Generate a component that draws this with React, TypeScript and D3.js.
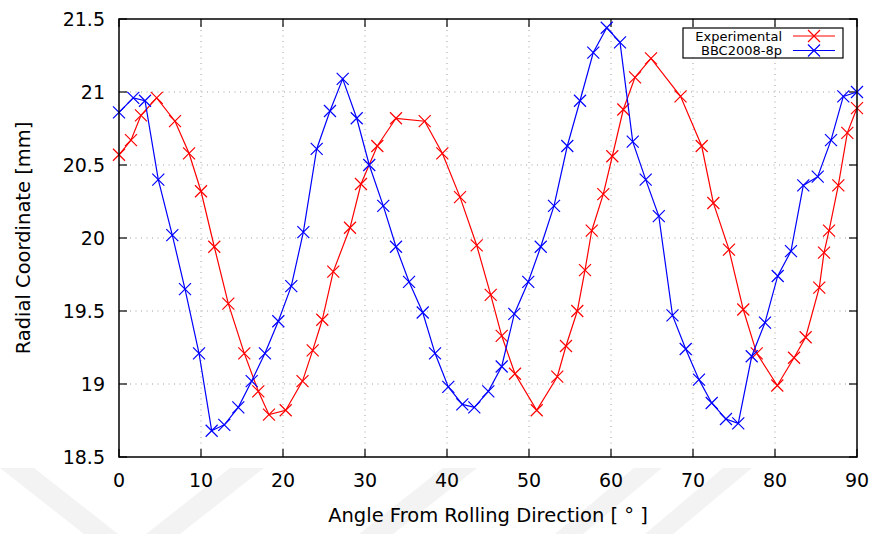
import React from "react";
import * as d3 from "d3";

const xTicks = [0, 10, 20, 30, 40, 50, 60, 70, 80, 90];
const yTicks = [18.5, 19, 19.5, 20, 20.5, 21, 21.5];

const expAngle = [0, 1.46, 2.68, 4.6, 6.83, 8.54, 10.0, 11.62, 13.33, 15.28, 16.99, 18.29, 20.33, 22.38, 23.62, 24.79, 26.13, 28.17, 29.51, 31.5, 33.78, 37.28, 39.43, 41.59, 43.62, 45.33, 46.67, 48.29, 50.94, 53.45, 54.51, 55.89, 56.83, 57.65, 59.06, 60.16, 61.5, 62.93, 64.88, 68.48, 71.06, 72.48, 74.39, 76.13, 77.77, 80.28, 82.32, 83.74, 85.4, 85.98, 86.59, 87.72, 88.82, 90];
const expVal = [20.57, 20.67, 20.84, 20.96, 20.8, 20.58, 20.32, 19.94, 19.55, 19.21, 18.95, 18.79, 18.82, 19.02, 19.23, 19.44, 19.77, 20.07, 20.37, 20.63, 20.82, 20.8, 20.58, 20.28, 19.95, 19.61, 19.33, 19.07, 18.82, 19.05, 19.26, 19.5, 19.78, 20.05, 20.3, 20.56, 20.88, 21.1, 21.23, 20.97, 20.63, 20.24, 19.92, 19.51, 19.21, 18.99, 19.18, 19.32, 19.66, 19.9, 20.05, 20.36, 20.72, 20.89];

const bbcAngle = [0, 1.74, 3.17, 4.79, 6.5, 8.05, 9.76, 11.3, 12.84, 14.55, 16.18, 17.8, 19.43, 21.01, 22.48, 24.11, 25.73, 27.28, 28.99, 30.52, 32.23, 33.78, 35.37, 37.04, 38.54, 40.16, 41.87, 43.33, 45.04, 46.67, 48.21, 49.91, 51.43, 53.05, 54.67, 56.22, 57.84, 59.48, 61.1, 62.65, 64.23, 65.83, 67.5, 69.11, 70.73, 72.28, 74.02, 75.52, 77.16, 78.78, 80.33, 81.95, 83.45, 85.21, 86.83, 88.33, 90];
const bbcVal = [20.86, 20.96, 20.94, 20.4, 20.02, 19.65, 19.21, 18.68, 18.72, 18.84, 19.02, 19.21, 19.43, 19.67, 20.04, 20.61, 20.87, 21.09, 20.82, 20.5, 20.22, 19.94, 19.7, 19.49, 19.21, 18.98, 18.86, 18.84, 18.95, 19.12, 19.48, 19.7, 19.94, 20.22, 20.63, 20.94, 21.27, 21.44, 21.34, 20.66, 20.4, 20.15, 19.47, 19.24, 19.03, 18.87, 18.76, 18.73, 19.19, 19.42, 19.74, 19.91, 20.36, 20.42, 20.67, 20.97, 21.0];

const seriesNames = ["Experimental", "BBC2008-8p"];
const seriesColors = ["#ff0000", "#0000ff"];
const xTitle = "Angle From Rolling Direction [ ° ]";
const yTitle = "Radial Coordinate [mm]";

const W = 875, H = 534;
const L = 119, R = 857, T = 19, B = 457;
const FONT = "'DejaVu Sans', sans-serif";

function Cross({ x, y, color }: { x: number; y: number; color: string }) {
  const s = 6;
  return (
    <path d={`M${x - s},${y - s}L${x + s},${y + s}M${x - s},${y + s}L${x + s},${y - s}`} stroke={color} strokeWidth={1.2} fill="none" />
  );
}

export default function App() {
  const x = d3.scaleLinear().domain([0, 90]).range([L, R]);
  const y = d3.scaleLinear().domain([18.5, 21.5]).range([B, T]);
  const line = d3.line<[number, number]>().x((d) => x(d[0])).y((d) => y(d[1]));
  const series = [
    { name: seriesNames[0], color: seriesColors[0], pts: expAngle.map((a, i) => [a, expVal[i]] as [number, number]) },
    { name: seriesNames[1], color: seriesColors[1], pts: bbcAngle.map((a, i) => [a, bbcVal[i]] as [number, number]) },
  ];
  const wm = "#f3f3f3";
  const tick = 8;
  return (
    <svg width={W} height={H} style={{ position: "absolute", left: 0, top: 0, background: "#fff" }} fontFamily={FONT}>
      {/* watermark */}
      <g fill={wm}>
        <polygon points="0,468 34,468 118,534 84,534" />
        <polygon points="230,468 264,468 180,534 146,534" />
        <polygon points="443,468 477,468 393,534 359,534" />
        <polygon points="634,468 662,468 583,534 555,534" />
        <polygon points="723,468 752,468 673,534 645,534" />
      </g>
      {/* grid */}
      <g stroke="#a0a0a0" strokeWidth={1} strokeDasharray="1,4.5">
        {xTicks.slice(1, -1).map((t) => (
          <line key={"gx" + t} x1={x(t)} x2={x(t)} y1={T} y2={B} />
        ))}
        {yTicks.slice(1, -1).map((t) => (
          <line key={"gy" + t} x1={L} x2={R} y1={y(t)} y2={y(t)} />
        ))}
      </g>
      {/* ticks */}
      <g stroke="#000" strokeWidth={1.2}>
        {xTicks.map((t) => (
          <g key={"tx" + t}>
            <line x1={x(t)} x2={x(t)} y1={B} y2={B - tick} />
            <line x1={x(t)} x2={x(t)} y1={T} y2={T + tick} />
          </g>
        ))}
        {yTicks.map((t) => (
          <g key={"ty" + t}>
            <line x1={L} x2={L + tick} y1={y(t)} y2={y(t)} />
            <line x1={R} x2={R - tick} y1={y(t)} y2={y(t)} />
          </g>
        ))}
      </g>
      {/* tick labels */}
      <g fontSize={19} fill="#000">
        {xTicks.map((t) => (
          <text key={"lx" + t} x={x(t)} y={487} textAnchor="middle">{t}</text>
        ))}
        {yTicks.map((t) => (
          <text key={"ly" + t} x={105} y={y(t)} dy="0.36em" textAnchor="end">{t}</text>
        ))}
      </g>
      <text x={(L + R) / 2} y={522} textAnchor="middle" fontSize={19.5}>{xTitle}</text>
      <text transform={`translate(30,${(T + B) / 2}) rotate(-90)`} textAnchor="middle" fontSize={19.5}>{yTitle}</text>
      {/* series */}
      {series.map((s) => (
        <g key={s.name}>
          <path d={line(s.pts) || ""} fill="none" stroke={s.color} strokeWidth={1.2} />
          {s.pts.map((p, i) => (
            <Cross key={i} x={x(p[0])} y={y(p[1])} color={s.color} />
          ))}
        </g>
      ))}
      {/* frame */}
      <rect x={L} y={T} width={R - L} height={B - T} fill="none" stroke="#000" strokeWidth={1.5} />
      {/* legend */}
      <g>
        <rect x={683} y={28} width={160} height={30} fill="#fff" stroke="#000" strokeWidth={1.2} />
        {series.map((s, i) => (
          <g key={"lg" + i}>
            <text x={782} y={36 + i * 14.5} dy="0.36em" textAnchor="end" fontSize={13}>{s.name}</text>
            <line x1={793} x2={835} y1={36 + i * 14.5} y2={36 + i * 14.5} stroke={s.color} strokeWidth={1.2} />
            <Cross x={814} y={36 + i * 14.5} color={s.color} />
          </g>
        ))}
      </g>
    </svg>
  );
}
